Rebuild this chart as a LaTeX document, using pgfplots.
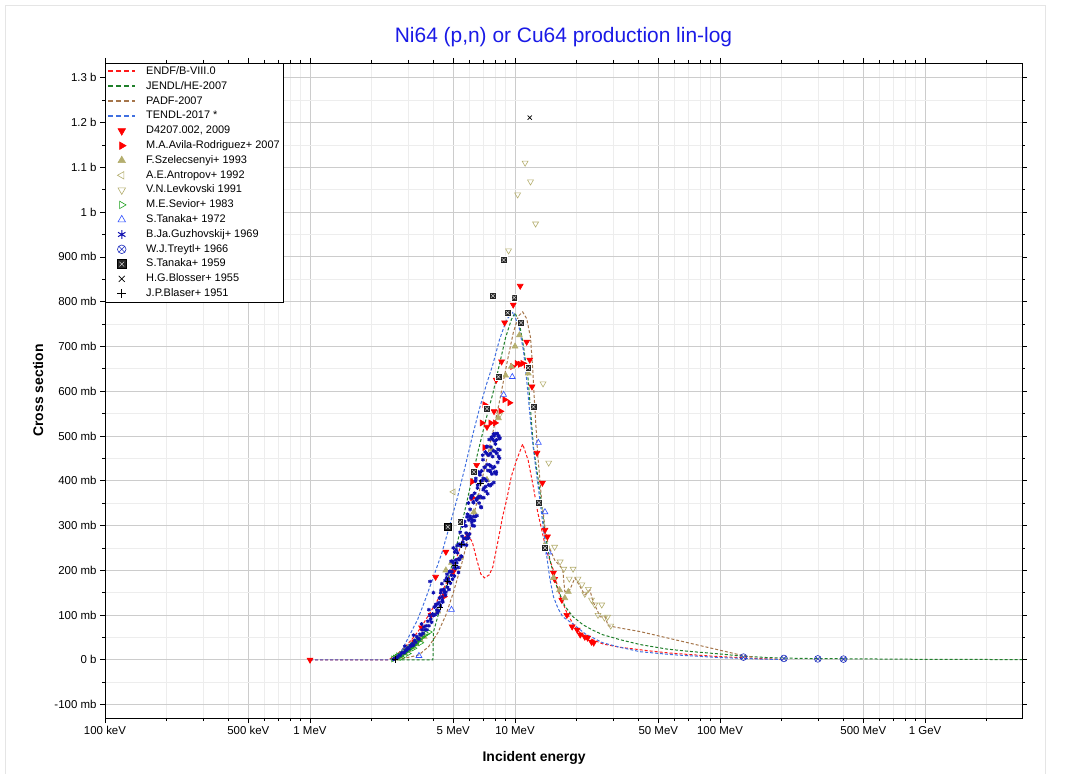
\documentclass[border=0pt]{standalone}
\usepackage{fontspec}
\setmainfont{Liberation Sans}
\usepackage{pgfplots}
\pgfplotsset{compat=1.18}
\usetikzlibrary{plotmarks}

\definecolor{cEndf}{HTML}{FF1A1A}
\definecolor{cJendl}{HTML}{1F7F2A}
\definecolor{cPadf}{HTML}{A5754A}
\definecolor{cTendl}{HTML}{4070E0}
\definecolor{cOlive}{HTML}{B4AE6E}
\definecolor{cGreen}{HTML}{1DA01D}
\definecolor{cBlue}{HTML}{3050FF}
\definecolor{cNavy}{HTML}{1010B0}
\definecolor{cTreytl}{HTML}{2030C0}
\definecolor{cTitle}{HTML}{1A1AE6}

% square with a cross, as used for S.Tanaka+ 1959
\pgfdeclareplotmark{boxx}{%
  \pgfpathrectangle{\pgfqpoint{-\pgfplotmarksize}{-\pgfplotmarksize}}{\pgfqpoint{2\pgfplotmarksize}{2\pgfplotmarksize}}%
  \pgfusepathqfillstroke
  \pgfsetstrokecolor{white}\pgfsetlinewidth{0.35bp}%
  \pgfpathmoveto{\pgfqpoint{-0.55\pgfplotmarksize}{-0.55\pgfplotmarksize}}\pgfpathlineto{\pgfqpoint{0.55\pgfplotmarksize}{0.55\pgfplotmarksize}}%
  \pgfpathmoveto{\pgfqpoint{-0.55\pgfplotmarksize}{0.55\pgfplotmarksize}}\pgfpathlineto{\pgfqpoint{0.55\pgfplotmarksize}{-0.55\pgfplotmarksize}}%
  \pgfusepathqstroke}

\pgfplotsset{
  eval/.style={dash pattern=on 3bp off 2bp, line width=1bp, no marks,
    legend image code/.code={\draw[##1, line width=2bp, dash pattern=on 4.5bp off 3.5bp] (0cm,0.3bp) -- (0.95cm,0.3bp);}},
  expt/.style={only marks, mark size=3.4bp, line width=0.6bp,
    legend image post style={mark size=4.3bp}},
}

\begin{document}
\begin{tikzpicture}
\useasboundingbox (-105bp,-56bp) rectangle (966bp,718bp);
\draw[gray!20, line width=0.8bp] (-100bp,-56bp) -- (-100bp,713bp) -- (940bp,713bp) -- (940bp,-56bp);
\begin{axis}[
    scale only axis,
    width=917bp, height=655bp,
    xmode=log,
    xmin=0.1, xmax=2972,
    ymin=-130, ymax=1333,
    axis line style={black, line width=0.8bp},
    xtick={0.1,0.5,1,5,10,50,100,500,1000},
    xticklabels={100 keV,500 keV,1 MeV,5 MeV,10 MeV,50 MeV,100 MeV,500 MeV,1 GeV},
    minor xtick={0.2,0.3,0.4,0.6,0.7,0.8,0.9,2,3,4,6,7,8,9,20,30,40,60,70,80,90,200,300,400,600,700,800,900,2000},
    ytick={-100,0,100,200,300,400,500,600,700,800,900,1000,1100,1200,1300},
    yticklabels={-100 mb,0 b,100 mb,200 mb,300 mb,400 mb,500 mb,600 mb,700 mb,800 mb,900 mb,1 b,1.1 b,1.2 b,1.3 b},
    minor ytick={-50,50,150,250,350,450,550,650,750,850,950,1050,1150,1250},
    grid=both,
    major grid style={gray!40, line width=0.8bp},
    minor grid style={gray!14, line width=0.6bp},
    tick align=outside,
    major tick length=5bp, minor tick length=3bp,
    tick style={black, line width=0.6bp},
    ticklabel style={font=\fontsize{11.5}{13}\selectfont},
    title={Ni64 (p,n) or Cu64 production lin-log},
    title style={at={(axis description cs:0.5,1.030)}, anchor=center,
      font=\fontsize{21}{25}\selectfont, text=cTitle},
    xlabel={Incident energy},
    ylabel={Cross section},
    xlabel style={at={(axis description cs:0.468,-0.061)}, anchor=center,
      font=\bfseries\fontsize{14}{16}\selectfont},
    ylabel style={at={(axis description cs:-0.073,0.5)}, anchor=center,
      font=\bfseries\fontsize{14}{16}\selectfont},
    legend cell align=left,
    legend image code/.code={\draw[mark repeat=2,mark phase=2,#1] plot coordinates {(0cm,0cm) (0.475cm,0cm) (0.95cm,0cm)};},
    legend style={at={(0,1)}, anchor=north west, draw=black, fill=white,
      line width=0.6bp, font=\fontsize{11}{13}\selectfont,
      inner xsep=2bp, inner ysep=1bp, row sep=0pt, column sep=8bp,
      nodes={inner sep=2bp, text height=8.2bp, text depth=2.6bp}},
]

% ---- evaluations ----
\addplot[eval, color=cEndf] coordinates {
 (1,0) (2.4,0) (2.6,8) (2.9,28) (3.2,50) (3.5,74) (3.85,105) (4.2,134) (4.55,165)
 (4.9,194) (5.3,240) (5.6,272) (5.9,280) (6.2,262) (6.5,225) (6.8,192) (7.1,183)
 (7.5,190) (7.8,208) (8.3,270) (8.7,320) (9.1,357) (9.6,410) (10.2,447) (10.9,482)
 (11.6,445) (12.3,385) (12.9,330) (13.5,290) (14.2,245) (15.4,200) (16.5,145)
 (17.9,105) (19.3,78) (20.8,60) (23,48) (27,35) (32.5,28) (45,20) (57,15) (80,10)
 (100,7) (150,3) (200,1)
};
\addlegendentry{ENDF/B-VIII.0}
\addplot[eval, color=cJendl] coordinates {
 (2.5,0) (3.98,0) (4.0,62) (4.4,130) (4.85,200) (5.35,280) (5.85,357) (6.6,465)
 (7.2,535) (7.8,595) (8.4,660) (9.0,720) (9.6,760) (10.0,775) (10.5,752) (11.0,700)
 (11.6,625) (12.3,475) (13.2,380) (14.0,284) (14.8,223) (16.0,163) (17.5,120)
 (19.2,96) (21.5,78) (24,66) (26.8,56) (32.5,45) (40.8,34) (55,24) (70,19) (100,13)
 (130,8) (170,5) (250,3) (500,2) (1000,1) (2972,0.5)
};
\addlegendentry{JENDL/HE-2007}
\addplot[eval, color=cPadf] coordinates {
 (2.5,0) (3.0,5) (3.4,11) (3.8,30) (4.2,60) (4.6,100) (5.0,150) (5.5,215) (6.0,285)
 (6.5,350) (7.0,415) (7.5,475) (8.0,530) (8.4,577) (9.2,670) (9.8,730) (10.4,768)
 (10.9,777) (11.4,762) (11.9,720) (12.2,650) (12.5,560) (12.9,460) (13.4,370)
 (14.0,295) (14.5,258) (15.6,223) (16.9,205) (17.1,201) (17.5,152) (18.5,156)
 (19.6,183) (20.8,163) (21.9,145) (23.2,156) (24.0,130) (25.1,112) (26.0,96)
 (27.5,96) (28.5,76) (32.5,71) (40.8,63) (125,11) (145,6)
};
\addlegendentry{PADF-2007}
\addplot[eval, color=cTendl] coordinates {
 (1,0) (2.45,0) (2.6,5) (2.8,20) (3.1,60) (3.35,90) (3.6,127) (4.0,185) (4.4,239)
 (4.8,300) (5.2,357) (5.7,430) (6.2,500) (6.7,560) (7.2,610) (7.8,660) (8.4,715)
 (9.1,760) (9.8,777) (10.5,740) (11.0,690) (11.4,625) (12.1,498) (12.6,431)
 (13.2,360) (13.7,300) (14.2,240) (14.8,180) (15.4,141) (16.2,115) (17.1,96)
 (19.2,80) (22,58) (26.8,38) (32.5,28) (40.8,18) (60,11) (100,5) (150,2) (200,0.5)
};
\addlegendentry{TENDL-2017 *}

% ---- measurements ----
\addplot[expt, color=red, mark=triangle*, mark options={rotate=180}] coordinates {
 (1.0,0) (3.3,40) (3.5,72) (3.9,100) (4.1,185) (4.6,241) (5.0,197) (5.4,308)
 (5.9,279) (6.5,435) (7.3,520) (7.9,555) (8.1,625) (8.6,666) (8.9,753) (9.8,793)
 (10.6,835) (11.4,710) (11.8,670) (12.1,610) (12.8,462) (13.6,395) (14.0,290)
 (14.4,275) (15.4,194) (15.6,180) (16.9,134) (17.9,100) (19.0,74) (20.1,67)
 (20.8,56) (21.9,51) (22.6,49) (23.6,40) (24.2,38)
};
\addlegendentry{D4207.002, 2009}
\addplot[expt, color=red, mark=triangle*, mark options={rotate=-90}] coordinates {
 (3.2,38) (4.5,141) (6.2,362) (6.2,398) (6.9,529) (7.1,570) (7.1,474) (7.6,529)
 (8.0,529) (8.5,555) (8.9,581) (9.4,574) (9.7,655) (10.2,662) (10.6,660)
 (10.9,662) (11.3,658)
};
\addlegendentry{M.A.Avila-Rodriguez+ 2007}
\addplot[expt, color=cOlive, mark=triangle*] coordinates {
 (2.6,3) (2.75,8) (2.9,15) (3.0,22) (3.15,28) (3.3,35) (3.45,45) (3.6,52) (4.2,108)
 (4.6,200) (4.9,217) (5.4,228) (6.3,330) (6.6,362) (7.3,402) (7.7,470) (8.3,540)
 (9.0,635) (9.6,655) (10.0,700) (10.5,725) (11.6,640) (13.9,255) (14.4,250)
 (15.4,183) (16.5,156) (17.5,138) (18.2,152)
};
\addlegendentry{F.Szelecsenyi+ 1993}
\addplot[expt, color=cOlive, mark=triangle, mark options={rotate=90}] coordinates {
 (5.0,375)
};
\addlegendentry{A.E.Antropov+ 1992}
\addplot[expt, color=cOlive, mark=triangle, mark options={rotate=180}] coordinates {
 (8.4,547) (9.3,914) (10.3,1039) (11.2,1110) (11.9,1068) (12.6,974) (13.7,617)
 (14.6,440) (15.6,252) (16.6,219) (17.3,203) (18.4,181) (19.2,203) (20.3,181)
 (21.2,168) (21.9,147) (22.8,158) (23.6,134) (24.5,123) (25.4,100) (26.5,123)
 (27.3,94) (28.3,96) (29.3,76)
};
\addlegendentry{V.N.Levkovski 1991}
\addplot[expt, color=cGreen, mark=triangle, mark options={rotate=-90}] coordinates {
 (2.55,2) (2.6,4) (2.65,6) (2.7,9) (2.75,8) (2.8,12) (2.85,14) (2.9,17) (2.95,20)
 (3.0,22) (3.05,25) (3.1,27) (3.15,31) (3.2,33) (3.25,36) (3.3,40) (3.35,42)
 (3.4,46) (3.5,50) (3.6,55) (3.7,58) (3.8,62) (2.8,5) (3.0,14) (3.2,26) (3.45,38)
};
\addlegendentry{M.E.Sevior+ 1983}
\addplot[expt, color=cBlue, mark=triangle] coordinates {
 (3.4,9) (4.9,112) (8.8,592) (9.7,632) (11.6,652) (13.0,485) (14.0,330) (14.6,240)
};
\addlegendentry{S.Tanaka+ 1972}
\addplot[expt, color=cNavy, mark=asterisk, mark size=1.9bp, line width=1bp] coordinates {
 (2.56,1) (2.60,3) (2.64,5) (2.68,6) (2.72,10) (2.76,10) (2.80,15) (2.84,16) (2.88,16)
 (2.92,21) (2.96,21) (3.00,27) (3.04,25) (3.08,32) (3.12,31) (3.16,36) (3.20,33)
 (3.24,43) (3.28,39) (3.32,52) (3.36,48) (3.40,46) (3.44,57) (3.48,55) (3.52,67)
 (3.56,59) (3.60,73) (3.64,67) (3.68,76) (3.72,67) (3.76,86) (3.80,76) (3.84,99)
 (3.88,91) (3.92,84) (3.96,102) (4.00,99) (4.04,118) (4.08,101) (4.12,124) (4.16,111)
 (4.20,125) (4.24,109) (4.28,138) (4.32,121) (4.36,156) (4.40,141) (4.44,129)
 (4.48,156) (4.52,150) (4.56,177) (4.60,151) (4.64,183) (4.68,162) (4.72,180)
 (4.76,157) (4.80,197) (4.84,171) (4.88,220) (4.92,197) (4.96,180) (5.00,216)
 (5.04,206) (5.08,241) (5.12,204) (5.16,246) (5.20,217) (5.24,239) (5.28,206)
 (5.32,258) (5.36,224) (5.40,285) (5.44,254) (5.48,231) (5.52,276) (5.56,263)
 (5.60,305) (5.64,257) (5.68,309) (5.72,271) (5.76,299) (5.80,256) (5.84,319)
 (5.88,276) (5.92,350) (5.96,312) (6.00,281) (6.04,336) (6.08,317) (6.12,366)
 (6.16,307) (6.20,367) (6.24,320) (6.28,351) (6.32,299) (6.36,372) (6.40,320)
 (6.44,405) (6.48,359) (6.52,322) (6.56,384) (6.60,362) (6.64,418) (6.68,350)
 (6.72,418) (6.76,365) (6.80,399) (6.84,340) (6.88,422) (6.92,362) (6.96,457)
 (7.00,405) (7.04,362) (7.08,430) (7.12,404) (7.16,464) (7.20,387) (7.24,461)
 (7.28,400) (7.32,436) (7.36,371) (7.40,458) (7.44,391) (7.48,492) (7.52,435)
 (7.56,389) (7.60,461) (7.64,432) (7.68,497) (7.72,415) (7.76,493) (7.80,428)
 (7.84,467) (7.88,396) (7.92,489) (7.96,419) (8.00,505) (8.04,464) (8.08,415)
 (8.12,491) (8.16,461) (8.20,505) (8.24,441) (8.28,500) (8.32,454) (8.36,494)
 (8.40,450) (8.44,495)
 (4.02,100) (4.10,120) (4.18,105) (4.26,128) (4.34,150) (4.42,134) (4.50,157)
 (4.58,144) (4.66,191) (4.74,175) (4.82,197) (4.90,189) (4.98,220) (5.06,187)
 (5.14,223) (5.22,255) (5.30,225) (5.38,258) (5.46,231) (5.54,299) (5.62,271)
 (5.70,300) (5.78,283) (5.86,325) (5.94,272) (6.02,321) (6.10,361) (6.18,312)
 (6.26,353) (6.34,311) (6.42,399) (6.50,357) (6.58,390) (6.66,364) (6.74,413)
 (6.82,342) (6.90,400) (6.98,447) (7.06,384) (7.14,430) (7.22,376) (7.30,477)
 (7.38,423) (7.46,457) (7.54,423) (7.62,475) (7.70,392) (7.78,454) (7.86,504)
 (7.94,431) (8.02,482) (8.10,420) (8.18,505) (8.26,470) (8.34,500) (8.42,469)
 (2.9,30) (3.2,55) (3.5,80) (3.8,112) (3.85,175) (4.0,150) (4.4,170) (5.0,250)
 (5.3,195) (5.8,270) (6.2,300) (6.6,420) (7.0,380) (7.3,475) (7.6,420) (7.9,500)
};
\addlegendentry{B.Ja.Guzhovskij+ 1969}
\addplot[expt, color=cTreytl, mark=otimes, mark size=3.4bp] coordinates {
 (130,6) (205,3) (300,2) (400,1.5)
};
\addlegendentry{W.J.Treytl+ 1966}
\addplot[expt, color=black, mark=boxx, mark size=3.4bp, mark options={fill=black!85}] coordinates {
 (4.7,297) (5.4,308) (6.3,420) (7.3,561) (7.8,813) (8.3,632) (8.8,893) (9.2,775)
 (9.9,809) (10.7,753) (11.6,652) (12.3,565) (13.1,351) (14.0,250)
};
\addlegendentry{S.Tanaka+ 1959}
\addplot[expt, color=black, mark=x, mark size=3bp] coordinates {
 (11.8,1211)
};
\addlegendentry{H.G.Blosser+ 1955}
\addplot[expt, color=black, mark=+, mark size=3.2bp] coordinates {
 (2.6,1) (4.3,118) (4.7,175) (5.1,212) (5.5,257) (6.8,395)
};
\addlegendentry{J.P.Blaser+ 1951}
\end{axis}
\end{tikzpicture}
\end{document}
